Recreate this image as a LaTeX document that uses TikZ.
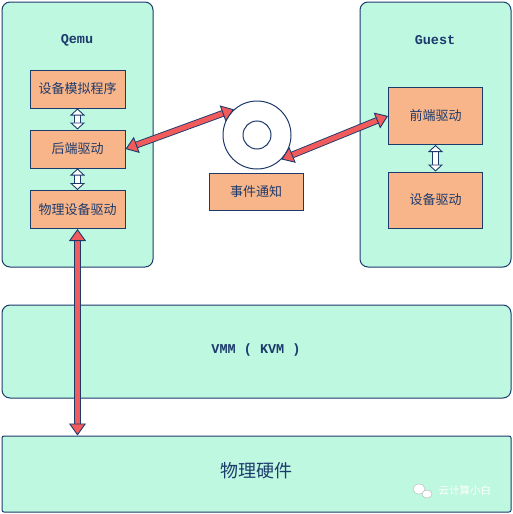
\documentclass[tikz,border=0pt]{standalone}
\usepackage{fontspec}
\newfontfamily\cjk{Noto Sans CJK SC}
\setmonofont{Liberation Mono}
\usetikzlibrary{arrows.meta,positioning}
\definecolor{mint}{HTML}{BEF8E1}
\definecolor{peach}{HTML}{F8B589}
\definecolor{navy}{HTML}{1D3A6C}
\definecolor{redfill}{HTML}{F25B5B}
\tikzset{
  panel/.style={draw=navy,line width=1pt,fill=mint,rounded corners=8pt},
  module/.style={draw=navy,line width=1pt,fill=peach,minimum width=95pt,
    minimum height=38pt,text=navy,font=\cjk\fontsize{13}{15}\selectfont},
  title/.style={text=navy,font=\ttfamily\bfseries\fontsize{13.5}{15}\selectfont},
  redlink/.style={draw=navy,line width=0.9pt,double=redfill,double distance=5pt,
    {Triangle[fill=redfill,length=12pt,width=17pt]}-{Triangle[fill=redfill,length=12pt,width=17pt]}},
  whitelink/.style={draw=navy,line width=0.9pt,double=white,double distance=5pt,
    {Triangle[fill=white,length=7pt,width=15pt]}-{Triangle[fill=white,length=7pt,width=15pt]}}
}
\begin{document}
\begin{tikzpicture}[x=1pt,y=-1pt]
  \useasboundingbox (0,0) rectangle (513,514);
  % panels
  \node[panel,minimum width=151pt,minimum height=265pt] (qemu) at (77.5,134.5) {};
  \node[panel,minimum width=151pt,minimum height=265pt] (guest) at (435.5,134.5) {};
  \node[panel,minimum width=509pt,minimum height=93pt] (vmm) at (256.5,351.5) {};
  \node[panel,rounded corners=2pt,minimum width=509pt,minimum height=76pt] (hw) at (256.5,474) {};
  \node[title] at (77,40) {Qemu};
  \node[title] at (435,40) {Guest};
  \node[title] at (256,350) {VMM ( KVM )};
  \node[text=navy,font=\cjk\fontsize{18}{20}\selectfont] at (256,471) {物理硬件};
  % modules
  \node[module] (sim) at (77.5,89) {设备模拟程序};
  \node[module] (back) at (77.5,149) {后端驱动};
  \node[module] (phys) at (77.5,209.5) {物理设备驱动};
  \node[module,minimum width=94pt,minimum height=57pt] (front) at (435.5,116) {前端驱动};
  \node[module,minimum width=94pt,minimum height=56pt] (dev) at (435.5,200) {设备驱动};
  \node[module,minimum width=94pt,minimum height=37pt] (event) at (256,191.5) {事件通知};
  % ring
  \node[circle,draw=navy,line width=1pt,fill=white,minimum size=68pt] (ring) at (257,135) {};
  \node[circle,draw=navy,line width=1pt,fill=white,minimum size=28pt] (hole) at (ring) {};
  % links
  \draw[whitelink] (sim.south) -- (back.north);
  \draw[whitelink] (back.south) -- (phys.north);
  \draw[whitelink] (front.south) -- (dev.north);
  \draw[redlink] (back.east) -- (ring.132);
  \draw[redlink] (ring.-45) -- (front.west);
  \draw[redlink] (phys.south) -- (phys.south |- hw.north);
  % watermark
  \fill[white,draw=gray!60,line width=0.4pt] (419,489) ellipse (6pt and 5pt);
  \fill[white,draw=gray!60,line width=0.4pt] (427,494) ellipse (5pt and 4pt);
  \node[text=white,font=\cjk\fontsize{10.5}{12}\selectfont,anchor=west] (mark) at (435,490) {云计算小白};
\end{tikzpicture}
\end{document}
